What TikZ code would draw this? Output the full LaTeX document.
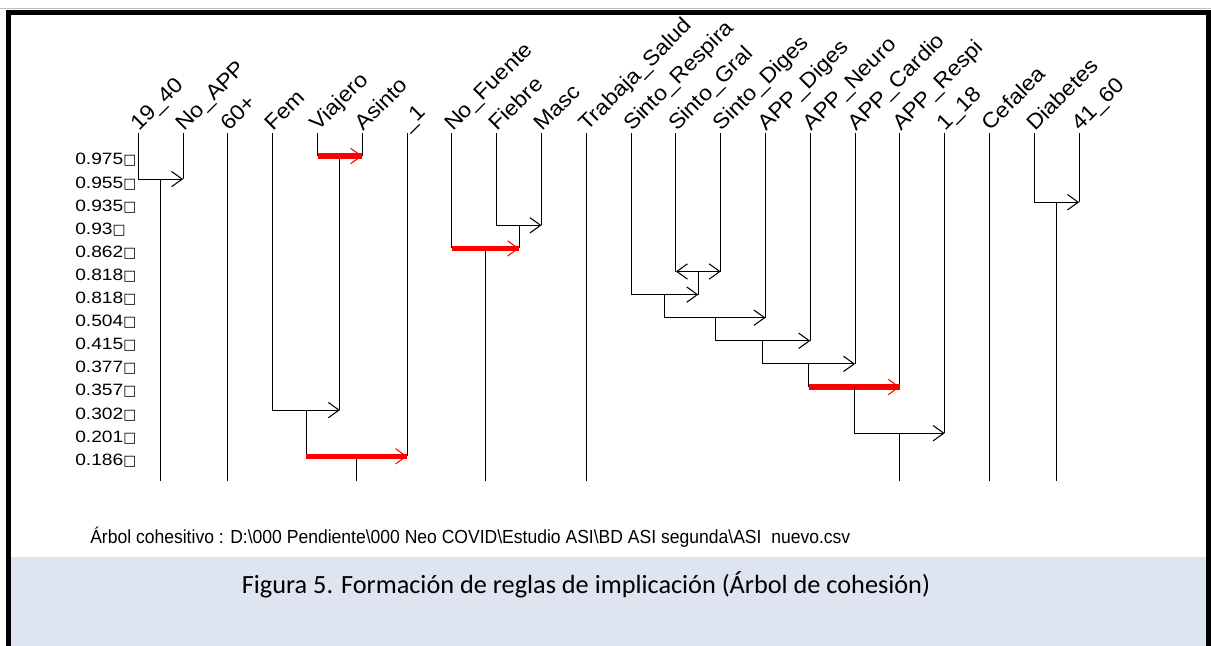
\documentclass[tikz,border=0pt]{standalone}
\usepackage{fontspec}
\setmainfont{Liberation Sans}
\newfontfamily\capfont{Carlito}
\newfontfamily\dejavu{DejaVu Sans}
\usetikzlibrary{arrows.meta,calc}
\definecolor{bandcol}{RGB}{222,228,240}
\definecolor{ared}{RGB}{255,0,0}
\begin{document}
\begin{tikzpicture}[x=0.75pt,y=-0.75pt,
  leaf/.style={line width=0.8pt},
  conn/.style={line width=0.8pt,-{Straight Barb[length=8pt,width=11.5pt]}},
  dconn/.style={line width=0.8pt,{Straight Barb[length=8pt,width=11.5pt]}-{Straight Barb[length=8pt,width=11.5pt]}},
  redline/.style={draw=ared,line width=4.2pt},
  redtip/.style={draw=ared,line width=0.8pt,-{Straight Barb[length=8pt,width=11.5pt]}},
  lab/.style={rotate=45,anchor=base west,inner sep=0pt,font=\fontsize{16}{16}\selectfont},
  val/.style={anchor=base west,inner sep=0pt,font=\fontsize{12.3}{12.3}\selectfont},
]
\useasboundingbox (0,0) rectangle (1211,646);
% caption band
\fill[bandcol] (11,557) rectangle (1206,646);
% rows
\foreach \k in {0,...,13}{
  \pgfmathsetmacro\yy{156+23.1*\k}
  \coordinate (row\k) at (0,\yy);
}
\coordinate (bot) at (0,481);
% leaves and their labels
\foreach \n [count=\i from 0] in {{19\_40},{No\_APP},{60+},{Fem},{Viajero},{Asinto},{\_1},{No\_Fuente},{Fiebre},{Masc},{Trabaja\_Salud},{Sinto\_Respira},{Sinto\_Gral},{Sinto\_Diges},{APP\_Diges},{APP\_Neuro},{APP\_Cardio},{APP\_Respi},{1\_18},{Cefalea},{Diabetes},{41\_60}}{
  \pgfmathsetmacro\xx{138.3+44.8*\i}
  \coordinate (t\i) at (\xx,133);
  \node[lab] (l\i) at (\xx+1,132) {\scalebox{1.08}[1]{\n}};
}
% value labels
\foreach \v [count=\k from 0] in {0.975,0.955,0.935,0.93,0.862,0.818,0.818,0.504,0.415,0.377,0.357,0.302,0.201,0.186}{
  \pgfmathsetmacro\yy{156+23.1*\k+8.9}
  \node[val] (v\k) at (75,\yy) {\scalebox{1.17}[1]{\v}\resizebox{9.75pt}{6.9pt}{\dejavu □}};
}
% A: 19_40 -> No_APP
\draw[leaf] (t1) -- (t1|-row1);
\draw[conn] (t0) |- (t1|-row1);
\coordinate (jA) at ($(t0|-row1)!0.5!(t1|-row1)$);
\draw[leaf] (jA) -- (jA|-bot);
% 60+
\draw[leaf] (t2) -- (t2|-bot);
% B: Viajero -> Asinto (red)
\draw[leaf] (t4) -- (t4|-row0);
\draw[leaf] (t5) -- (t5|-row0);
\coordinate (jB) at ($(t4|-row0)!0.5!(t5|-row0)$);
\draw[leaf] (jB) -- (jB|-row11);
\draw[redline] (t4|-row0) -- (t5|-row0);
\draw[redtip] (t4|-row0) -- (t5|-row0);
% C: Fem -> B
\draw[conn] (t3) |- (jB|-row11);
\coordinate (jC) at ($(t3|-row11)!0.5!(jB|-row11)$);
\draw[leaf] (jC) -- (jC|-row13);
% D: C -> _1 (red)
\draw[leaf] (t6) -- (t6|-row13);
\coordinate (jD) at ($(jC|-row13)!0.5!(t6|-row13)$);
\draw[leaf] (jD) -- (jD|-bot);
\draw[redline] (jC|-row13) -- (t6|-row13);
\draw[redtip] (jC|-row13) -- (t6|-row13);
% E: Fiebre -> Masc
\draw[leaf] (t9) -- (t9|-row3);
\draw[conn] (t8) |- (t9|-row3);
\coordinate (jE) at ($(t8|-row3)!0.5!(t9|-row3)$);
\draw[leaf] (jE) -- (jE|-row4);
% F: No_Fuente -> E (red)
\draw[leaf] (t7) -- (t7|-row4);
\coordinate (jF) at ($(t7|-row4)!0.5!(jE|-row4)$);
\draw[leaf] (jF) -- (jF|-bot);
\draw[redline] (t7|-row4) -- (jE|-row4);
\draw[redtip] (t7|-row4) -- (jE|-row4);
% Trabaja_Salud
\draw[leaf] (t10) -- (t10|-bot);
% G: Sinto_Gral <-> Sinto_Diges
\draw[leaf] (t12) -- (t12|-row5);
\draw[leaf] (t13) -- (t13|-row5);
\draw[dconn] (t12|-row5) -- (t13|-row5);
\coordinate (jG) at ($(t12|-row5)!0.5!(t13|-row5)$);
\draw[leaf] (jG) -- (jG|-row6);
% H: Sinto_Respira -> G
\draw[conn] (t11) |- (jG|-row6);
\coordinate (jH) at ($(t11|-row6)!0.5!(jG|-row6)$);
% I: H -> APP_Diges
\draw[leaf] (t14) -- (t14|-row7);
\draw[conn] (jH) |- (t14|-row7);
\coordinate (jI) at ($(jH|-row7)!0.5!(t14|-row7)$);
% J: I -> APP_Neuro
\draw[leaf] (t15) -- (t15|-row8);
\draw[conn] (jI) |- (t15|-row8);
\coordinate (jJ) at ($(jI|-row8)!0.5!(t15|-row8)$);
% K: J -> APP_Cardio
\draw[leaf] (t16) -- (t16|-row9);
\draw[conn] (jJ) |- (t16|-row9);
\coordinate (jK) at ($(jJ|-row9)!0.5!(t16|-row9)$);
% L: K -> APP_Respi (red)
\draw[leaf] (t17) -- (t17|-row10);
\draw[leaf] (jK) -- (jK|-row10);
\coordinate (jL) at ($(jK|-row10)!0.5!(t17|-row10)$);
\draw[redline] (jK|-row10) -- (t17|-row10);
\draw[redtip] (jK|-row10) -- (t17|-row10);
% M: L -> 1_18
\draw[leaf] (t18) -- (t18|-row12);
\draw[conn] (jL) |- (t18|-row12);
\coordinate (jM) at ($(jL|-row12)!0.5!(t18|-row12)$);
\draw[leaf] (jM) -- (jM|-bot);
% Cefalea
\draw[leaf] (t19) -- (t19|-bot);
% N: Diabetes -> 41_60
\draw[leaf] (t21) -- (t21|-row2);
\draw[conn] (t20) |- (t21|-row2);
\coordinate (jN) at ($(t20|-row2)!0.5!(t21|-row2)$);
\draw[leaf] (jN) -- (jN|-bot);
% source line
\node[anchor=base west,inner sep=0pt,font=\fontsize{14.2}{14.2}\selectfont] (src) at (90,543)
  {\resizebox{570pt}{\height}{Árbol cohesitivo : D:\textbackslash 000 Pendiente\textbackslash 000 Neo COVID\textbackslash Estudio ASI\textbackslash BD ASI segunda\textbackslash ASI\ \ nuevo.csv}};
% caption
\node[inner sep=0pt,font=\capfont\fontsize{19.7}{19.7}\selectfont] (cap) at (586,585)
  {Figura 5. Formación de reglas de implicación (Árbol de cohesión)};
% frame
\draw[black!25,line width=0.75pt] (0,8) -- (1211,8);
\fill[black] (6,10) rectangle (1211,15);
\fill[black] (6,10) rectangle (11,646);
\fill[black] (1206,10) rectangle (1211,646);
\end{tikzpicture}
\end{document}
